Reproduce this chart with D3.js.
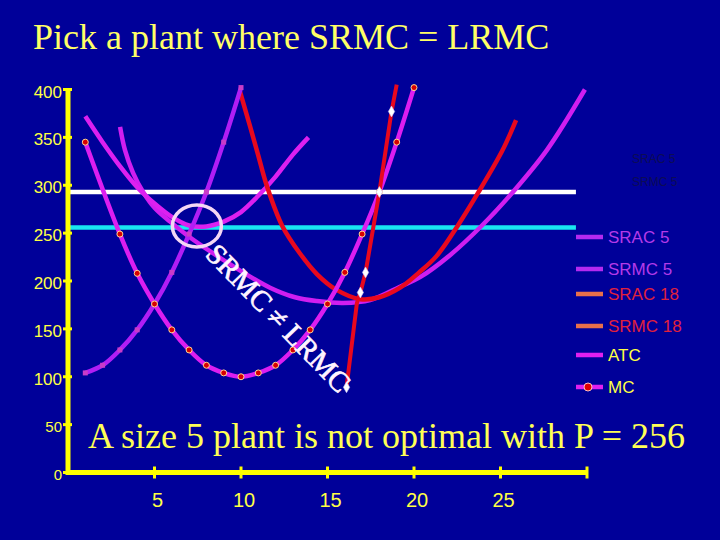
<!DOCTYPE html>
<html><head><meta charset="utf-8">
<script src="https://cdn.jsdelivr.net/npm/d3@7"></script>
<style>html,body{margin:0;padding:0;background:#000099;}svg{display:block}</style>
</head><body><svg id="c" width="720" height="540"></svg>
<script>
// ---------- data ----------
const titleText = "Pick a plant where SRMC = LRMC";
const noteText = "A size 5 plant is not optimal with P = 256";
const curveNote = "SRMC \u2260 LRMC";
const xTickValues = [5, 10, 15, 20, 25, 30];
const xTickLabels = ["5", "10", "15", "20", "25", ""];
const yTickValues = [0, 50, 100, 150, 200, 250, 300, 350, 400];
const yTickLabels = ["0", "50", "100", "150", "200", "250", "300", "350", "400"];

const priceLevel = 256;          // cyan line
const upperLevel = 293;          // white line
const levelEndX = 29.36;

// SRAC 5 (magenta U, left)
const srac5X = [1, 2, 3, 4, 5, 6, 7, 8, 9, 10, 11, 12, 13, 13.9];
const srac5Y = [372, 345, 320, 298, 281, 267, 258, 257, 262, 272, 289, 309, 332, 350];
// SRMC 5 (violet, rising, square markers)
const srmc5X = [1, 2, 3, 4, 5, 6, 7, 8, 9, 10];
const srmc5Y = [104, 112, 128, 149, 176, 209, 249, 293, 345, 402];
// ATC (long U)
const atcX = [3.01, 3.29, 3.76, 4.34, 5.03, 5.9, 6.94, 8.38, 10.12, 11.68, 13.12, 14.39, 15.9, 17.46, 19.19, 20.35, 22.08, 23.93, 25.72, 27.69, 29.88];
const atcY = [361, 337, 313, 293, 276, 262, 247, 229, 209, 193, 183, 179, 177, 180, 194, 204, 227, 258, 293, 337, 400];
// MC (magenta U with red dots)
const mcX = [1, 3, 4, 5, 6, 7, 8, 9, 10, 11, 12, 13, 14, 15, 16, 17, 18, 19, 20];
const mcY = [345, 249, 208, 176, 149, 128, 112, 104, 100, 104, 112, 128, 149, 176, 209, 249, 293, 345, 402];
// SRAC 18 (red U)
const srac18X = [9.94, 10.5, 11.0, 11.5, 12.4, 13.4, 14.4, 15.5, 16.9, 18.0, 19.2, 20.3, 21.3, 22.5, 23.7, 25.1, 25.9];
const srac18Y = [398, 363, 331, 299, 257, 229, 207, 191, 181, 183, 193, 209, 226, 257, 292, 336, 368];
// SRMC 18 (steep red, white diamonds)
const srmc18X = [16.1, 16.7, 16.9, 17.2, 18.0, 18.7, 19.0];
const srmc18Y = [89, 177, 188, 209, 293, 377, 405];
const srmc18Marked = [true, false, true, true, true, true, false];

const legendLabels = ["SRAC 5", "SRMC 5", "SRAC 18", "SRMC 18", "ATC", "MC"];
const faintLabels = ["SRAC 5", "SRMC 5"];

// annotation anchors (data units)
const circleAt = [7.45, 257.5];
const curveNoteAt = [11.76, 154];

// ---------- drawing ----------
const svg = d3.select("#c");
svg.append("rect").attr("width", 720).attr("height", 540).attr("fill", "#000099");

const x = d3.scaleLinear().domain([0, 30]).range([68, 587]);
const y = d3.scaleLinear().domain([0, 400]).range([472.5, 89.5]);

const yellow = "#ffff00";
const labelYellow = "#ffff44";

// title
svg.append("text").attr("x", 33).attr("y", 49)
  .attr("font-family", "'Liberation Serif','Times New Roman',serif").attr("font-size", 36)
  .attr("fill", "#ffff66").text(titleText);

// horizontal level lines
svg.append("line").attr("x1", x(0)).attr("x2", x(levelEndX)).attr("y1", y(upperLevel)).attr("y2", y(upperLevel))
  .attr("stroke", "#ffffff").attr("stroke-width", 4.5);
svg.append("line").attr("x1", x(0)).attr("x2", x(levelEndX)).attr("y1", y(priceLevel)).attr("y2", y(priceLevel))
  .attr("stroke", "#19e6f0").attr("stroke-width", 4.5);

const curve = d3.curveCatmullRom.alpha(0.5);
function drawSeries(xs, ys, color, width, crv) {
  const pts = xs.map((d, i) => [d, ys[i]]);
  const line = d3.line().x(d => x(d[0])).y(d => y(d[1])).curve(crv || curve);
  svg.append("path").attr("d", line(pts)).attr("fill", "none")
    .attr("stroke", color).attr("stroke-width", width)
    .attr("stroke-linejoin", "round").attr("stroke-linecap", "butt");
  return pts;
}

const atcPts = drawSeries(atcX, atcY, "#d01ef0", 4.5);
const srac5Pts = drawSeries(srac5X, srac5Y, "#dc20f0", 4.5);
const srac18Pts = drawSeries(srac18X, srac18Y, "#e8081e", 4.5);
const mcPts = drawSeries(mcX, mcY, "#dc1ef0", 4.5);
const srmc5Pts = drawSeries(srmc5X, srmc5Y, "#b01ef5", 4.5);
const srmc18Pts = drawSeries(srmc18X, srmc18Y, "#e8081e", 4, d3.curveLinear);

// markers
svg.append("g").selectAll("rect").data(srmc5Pts).join("rect")
  .attr("x", d => x(d[0]) - 2.5).attr("y", d => y(d[1]) - 2.5)
  .attr("width", 5).attr("height", 5).attr("fill", "#c83cc8");
svg.append("g").selectAll("circle").data(mcPts).join("circle")
  .attr("cx", d => x(d[0])).attr("cy", d => y(d[1])).attr("r", 3)
  .attr("fill", "#d80000").attr("stroke", "#ffd890").attr("stroke-width", 1);
svg.append("g").selectAll("path").data(srmc18Pts.filter((d, i) => srmc18Marked[i])).join("path")
  .attr("d", d3.symbol(d3.symbolDiamond, 34))
  .attr("transform", d => `translate(${x(d[0])},${y(d[1])})`)
  .attr("fill", "#ffffff").attr("stroke", "#c8c8ff").attr("stroke-width", 0.6);

// circle annotation
svg.append("ellipse").attr("cx", x(circleAt[0])).attr("cy", y(circleAt[1]))
  .attr("rx", 24.5).attr("ry", 21).attr("fill", "none")
  .attr("stroke", "#f4d6f4").attr("stroke-width", 3.5);

// rotated note
svg.append("text")
  .attr("transform", `translate(${x(curveNoteAt[0])},${y(curveNoteAt[1])}) rotate(46)`)
  .attr("text-anchor", "middle")
  .attr("font-family", "'Liberation Serif','Times New Roman',serif").attr("font-size", 29)
  .attr("fill", "#fff4ff").attr("stroke", "#fff4ff").attr("stroke-width", 0.7)
  .text(curveNote);

// axes
const ax = svg.append("g");
ax.append("line").attr("x1", x(0)).attr("x2", x(30)).attr("y1", y(0)).attr("y2", y(0))
  .attr("stroke", yellow).attr("stroke-width", 5);
ax.append("line").attr("x1", x(0)).attr("x2", x(0)).attr("y1", y(0) + 2.5).attr("y2", y(400))
  .attr("stroke", yellow).attr("stroke-width", 5);
ax.selectAll(".xt").data(xTickValues).join("line")
  .attr("x1", d => x(d)).attr("x2", d => x(d)).attr("y1", y(0) - 6).attr("y2", y(0) + 6)
  .attr("stroke", yellow).attr("stroke-width", 3);
ax.selectAll(".yt").data(yTickValues).join("line")
  .attr("x1", x(0) - 5).attr("x2", x(0) + 4).attr("y1", d => y(d)).attr("y2", d => y(d))
  .attr("stroke", yellow).attr("stroke-width", 3);

const sans = "'Liberation Sans',Arial,sans-serif";
ax.selectAll(".xl").data(xTickValues).join("text")
  .attr("x", d => x(d) + 3).attr("y", 507).attr("text-anchor", "middle")
  .attr("font-family", sans).attr("font-size", 20).attr("fill", labelYellow)
  .text((d, i) => xTickLabels[i]);
ax.selectAll(".yl").data(yTickValues).join("text")
  .attr("x", 62).attr("y", d => y(d) + 2).attr("dy", "0.36em").attr("text-anchor", "end")
  .attr("font-family", sans).attr("font-size", d => d < 100 ? 15 : 17).attr("fill", labelYellow)
  .text((d, i) => yTickLabels[i]);

// bottom note
svg.append("text").attr("x", 88).attr("y", 448)
  .attr("font-family", "'Liberation Serif','Times New Roman',serif").attr("font-size", 36)
  .attr("fill", "#ffff55").text(noteText);

// faint labels
const faintY = [159, 182];
svg.selectAll(".fl").data(faintLabels).join("text")
  .attr("x", 632).attr("y", (d, i) => faintY[i]).attr("dy", "0.35em")
  .attr("font-family", sans).attr("font-size", 12).attr("fill", "#0c0c55").text(d => d);

// legend
const legendY = [237, 269, 294, 326, 355, 387];
const legendLine = ["#b42af0", "#b42af0", "#e8704a", "#e8704a", "#e020f0", "#e020f0"];
const legendText = ["#b43ae8", "#b43ae8", "#e0203c", "#e0203c", "#ffff44", "#ffff44"];
const lg = svg.append("g");
legendLabels.forEach((lab, i) => {
  lg.append("line").attr("x1", 576).attr("x2", 603).attr("y1", legendY[i]).attr("y2", legendY[i])
    .attr("stroke", legendLine[i]).attr("stroke-width", 4.5);
  lg.append("text").attr("x", 608).attr("y", legendY[i]).attr("dy", "0.36em")
    .attr("font-family", sans).attr("font-size", 17).attr("fill", legendText[i]).text(lab);
  if (lab === "MC") {
    lg.append("circle").attr("cx", 588).attr("cy", legendY[i]).attr("r", 4)
      .attr("fill", "#e00000").attr("stroke", "#ffc0c0").attr("stroke-width", 1);
  }
});
</script></body></html>
